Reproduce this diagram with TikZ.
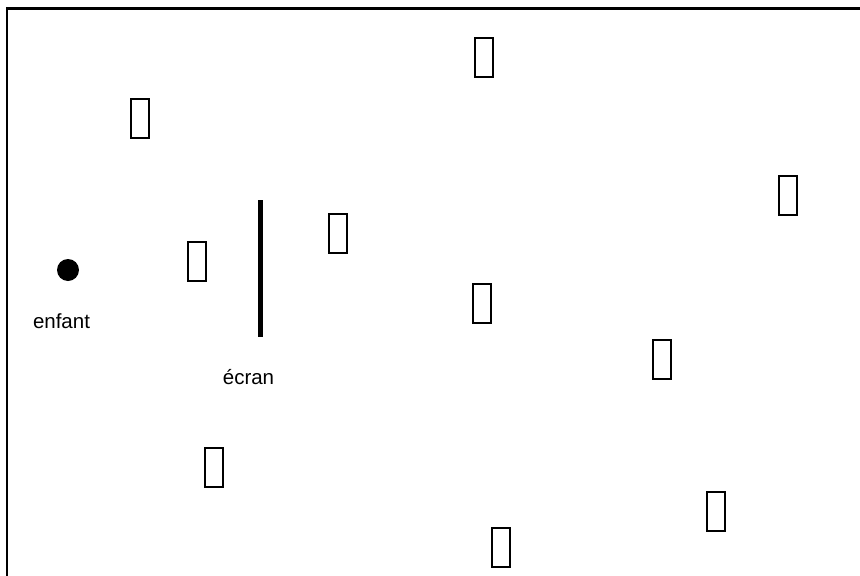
\documentclass[tikz,border=0pt]{standalone}
\usepackage{fontspec}
\setmainfont{Liberation Sans}
\begin{document}
\begin{tikzpicture}[x=1pt,y=-1pt,
  obj/.style={draw,line width=2pt,rectangle,minimum width=18pt,minimum height=39pt,inner sep=0pt,outer sep=0pt},
  lbl/.style={font=\fontsize{20.5}{24}\selectfont,anchor=base,inner sep=0pt}]
\useasboundingbox (0,0) rectangle (860,576);
\draw[line width=2.5pt] (7,576) -- (7,8.5) -- (860,8.5);
% child
\fill (68,270) circle (11);
\node[lbl] (enfant) at (61.5,328) {enfant};
% screen
\coordinate (s1) at (260,200);
\coordinate (s2) at (260,337);
\draw[line width=5pt] (s1) -- (s2);
\node[lbl] (ecran) at (248.5,384) {écran};
% objects
\node[obj] (r1) at (484,57.5) {};
\node[obj] (r2) at (140,118) {};
\node[obj] (r3) at (197,261.5) {};
\node[obj] (r5) at (338,233) {};
\node[obj] (r6) at (787.5,195) {};
\node[obj] (r7) at (481.5,303.5) {};
\node[obj] (r8) at (662,359) {};
\node[obj] (r9) at (214,467) {};
\node[obj] (r10) at (716,511) {};
\node[obj] (r11) at (500.5,547) {};
\end{tikzpicture}
\end{document}
